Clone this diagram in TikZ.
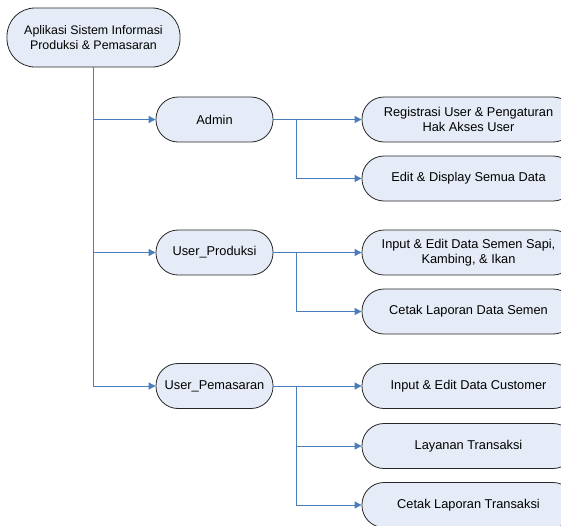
\documentclass[tikz,border=0pt]{standalone}
\usepackage{fontspec}
\setmainfont{Liberation Sans}
\usetikzlibrary{arrows.meta}
\definecolor{boxfill}{HTML}{E6ECF7}
\definecolor{linkblue}{HTML}{4A7EBB}
\begin{document}
\begin{tikzpicture}[x=1pt,y=-1pt,
  term/.style={draw=black!85,line width=0.8pt,fill=boxfill,rounded corners=22pt,
    minimum width=117pt,minimum height=45pt,inner sep=0pt,align=center,
    font=\fontsize{12.8}{14.5}\selectfont},
  leaf/.style={term,minimum width=213pt},
  link/.style={draw=linkblue,line width=0.9pt},
  arr/.style={link,-{Triangle[length=7pt,width=7pt]}}]
\useasboundingbox (0,0) rectangle (561,525);
\clip (0,0) rectangle (561,525);

% root and the three roles
\node[term,minimum width=173pt,minimum height=59pt,rounded corners=28pt,
  font=\fontsize{12.4}{14.5}\selectfont] (root) at (93.5,37.5)
  {Aplikasi Sistem Informasi\\Produksi \& Pemasaran};
\node[term] (admin) at (214.5,119.5) {Admin};
\node[term] (prod) at (214.5,252.5) {User\_Produksi};
\node[term] (pem) at (214.5,386) {User\_Pemasaran};

% functions of each role
\node[leaf] (reg) at (468.5,119.5) {Registrasi User \& Pengaturan\\Hak Akses User};
\node[leaf] (edit) at (468.5,178.5) {Edit \& Display Semua Data};
\node[leaf] (semen) at (468.5,252.5) {Input \& Edit Data Semen Sapi,\\Kambing, \& Ikan};
\node[leaf] (lapsemen) at (468.5,311.5) {Cetak Laporan Data Semen};
\node[leaf] (cust) at (468.5,386) {Input \& Edit Data Customer};
\node[leaf] (lay) at (468.5,446) {Layanan Transaksi};
\node[leaf] (laptr) at (468.5,505) {Cetak Laporan Transaksi};

% trunk from the root to the roles
\draw[arr] (root.south) |- (pem.west);
\draw[arr] (root.south |- admin.west) -- (admin.west);
\draw[arr] (root.south |- prod.west) -- (prod.west);

% branches from each role to its functions
\coordinate (ba) at (296,119.5);
\coordinate (bp) at (296,252.5);
\coordinate (bm) at (296,386);
\draw[arr] (admin.east) -- (reg.west);
\draw[arr] (ba) |- (edit.west);
\draw[arr] (prod.east) -- (semen.west);
\draw[arr] (bp) |- (lapsemen.west);
\draw[arr] (pem.east) -- (cust.west);
\draw[arr] (bm) |- (lay.west);
\draw[arr] (bm) |- (laptr.west);
\end{tikzpicture}
\end{document}
